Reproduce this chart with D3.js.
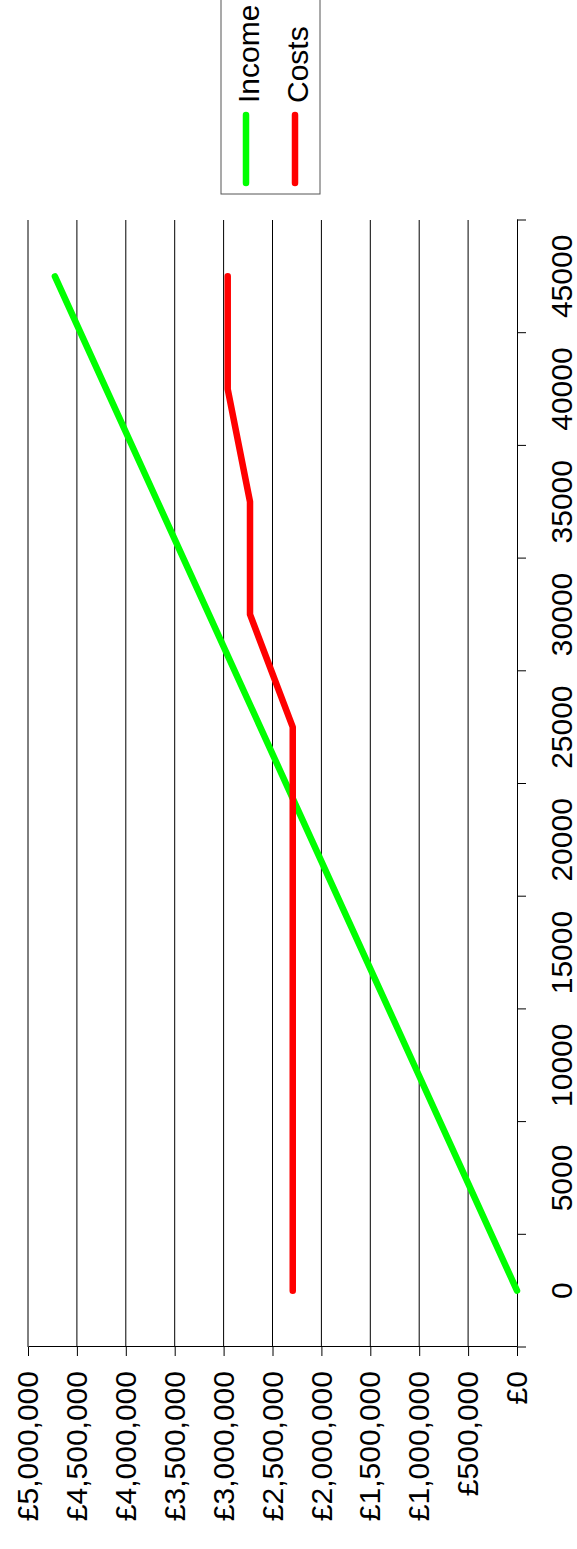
<!DOCTYPE html>
<html>
<head>
<meta charset="utf-8">
<script src="https://cdn.jsdelivr.net/npm/d3@7"></script>
<style>
  body { margin: 0; background: #fff; }
  text { font-family: "Liberation Sans", Arial, sans-serif; }
</style>
</head>
<body>
<div id="chart"></div>
<script>
// units sold (categories) and the two series
const units = ["0", "5000", "10000", "15000", "20000", "25000", "30000", "35000", "40000", "45000"];
const income = [0, 525000, 1050000, 1575000, 2100000, 2625000, 3150000, 3675000, 4200000, 4725000];
const costs = [2293000, 2293000, 2293000, 2293000, 2293000, 2293000, 2730000, 2730000, 2958000, 2958000];
const moneyTicks = [0, 500000, 1000000, 1500000, 2000000, 2500000, 3000000, 3500000, 4000000, 4500000, 5000000];
const seriesNames = ["Income", "Costs"];
const seriesColors = ["#00ff00", "#ff0000"];

const pageW = 577, pageH = 1549;

// the chart is drawn the normal way round, then the whole group is turned by -90 degrees
const svg = d3.select("#chart")
  .append("svg")
  .attr("width", pageW)
  .attr("height", pageH);

const g = svg.append("g")
  .attr("transform", `translate(0,${pageH}) rotate(-90)`);

// plot area in the unrotated frame
const plot = { left: 202, right: 1329, top: 28, bottom: 517 };

const x = d3.scaleBand()
  .domain(units)
  .range([plot.left, plot.right]);

const y = d3.scaleLinear()
  .domain([0, 5000000])
  .range([plot.bottom, plot.top]);

// gridlines
g.append("g")
  .selectAll("line")
  .data(moneyTicks.filter(d => d > 0))
  .join("line")
  .attr("x1", plot.left)
  .attr("x2", plot.right)
  .attr("y1", d => y(d))
  .attr("y2", d => y(d))
  .attr("stroke", "#000")
  .attr("stroke-width", 1);

// value axis
const yAxis = g.append("g")
  .attr("transform", `translate(${plot.left},0)`)
  .call(d3.axisLeft(y)
    .tickValues(moneyTicks)
    .tickSize(9)
    .tickSizeOuter(0)
    .tickPadding(15)
    .tickFormat(d => "£" + d3.format(",")(d)));
yAxis.selectAll("text").style("font-size", "30px").attr("fill", "#000");
yAxis.select(".domain").attr("stroke", "#000");

// category axis, labels centred in each band
const xAxis = g.append("g")
  .attr("transform", `translate(0,${plot.bottom})`)
  .call(d3.axisBottom(x).tickSize(0).tickSizeOuter(0).tickPadding(34));
xAxis.selectAll("text").style("font-size", "30px").attr("fill", "#000");
xAxis.select(".domain").attr("stroke", "#000");

// category tick marks sit between the bands
const bounds = units.map(d => x(d)).concat([x(units[units.length - 1]) + x.bandwidth()]);
g.append("g")
  .selectAll("line")
  .data(bounds)
  .join("line")
  .attr("x1", d => d)
  .attr("x2", d => d)
  .attr("y1", plot.bottom)
  .attr("y2", plot.bottom + 9)
  .attr("stroke", "#000");

// series lines
const line = d3.line()
  .x((d, i) => x(units[i]) + x.bandwidth() / 2)
  .y(d => y(d));

[income, costs].forEach((s, k) => {
  g.append("path")
    .datum(s)
    .attr("fill", "none")
    .attr("stroke", seriesColors[k])
    .attr("stroke-width", 6.5)
    .attr("stroke-linecap", "round")
    .attr("stroke-linejoin", "round")
    .attr("d", line);
});

// legend
const legend = g.append("g");
legend.append("rect")
  .attr("x", 1355)
  .attr("y", 221)
  .attr("width", 300)
  .attr("height", 99)
  .attr("fill", "#fff")
  .attr("stroke", "#555");

seriesNames.forEach((name, k) => {
  const ly = 246 + k * 49;
  legend.append("line")
    .attr("x1", 1366)
    .attr("x2", 1434)
    .attr("y1", ly)
    .attr("y2", ly)
    .attr("stroke", seriesColors[k])
    .attr("stroke-width", 6.5)
    .attr("stroke-linecap", "round");
  legend.append("text")
    .attr("x", 1446)
    .attr("y", ly + 13)
    .style("font-size", "30px")
    .text(name);
});
</script>
</body>
</html>
